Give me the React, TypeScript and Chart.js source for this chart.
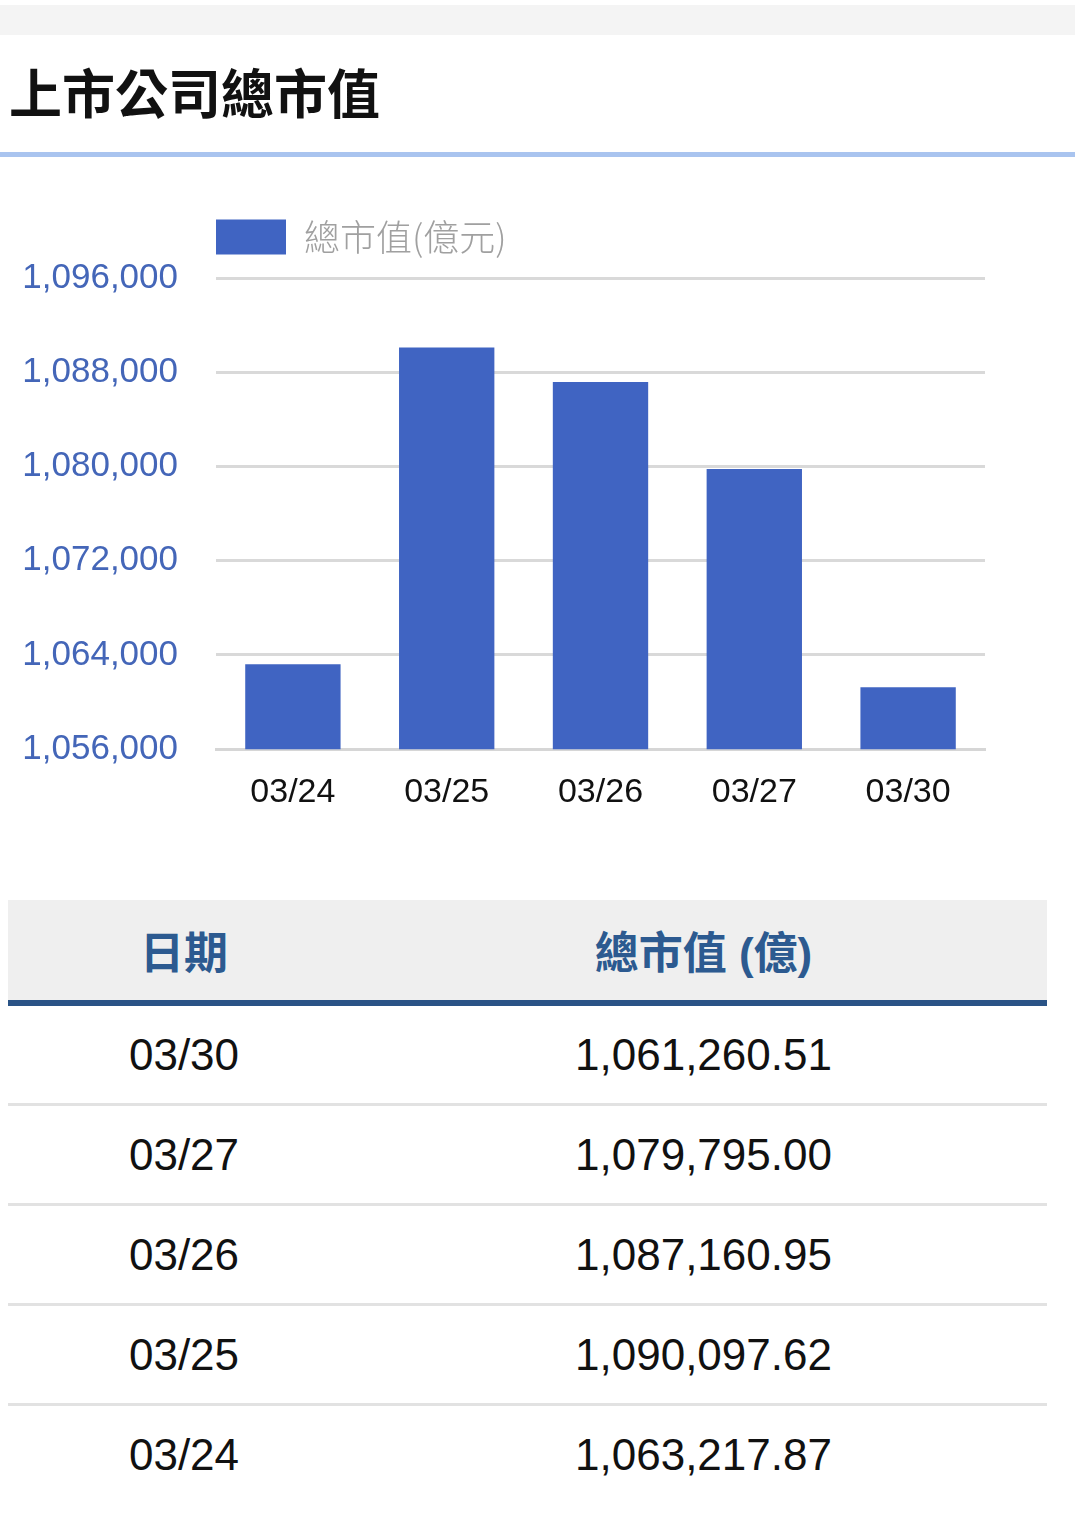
import { useEffect, useLayoutEffect, useRef } from 'react'
import { Chart, registerables } from 'chart.js'

Chart.register(...registerables)

const dates = ['03/24', '03/25', '03/26', '03/27', '03/30']
const marketValues = [1063217.87, 1090097.62, 1087160.95, 1079795.0, 1061260.51]
const seriesLabel = '總市值(億元)'
const yMin = 1056000
const yMax = 1096000
const yStep = 8000

const barColor = '#4064c2'
const tickBlue = '#4466b8'
const latin = "'Liberation Sans', Arial, sans-serif"

function fmt(v: number, digits = 0) {
  return v.toLocaleString('en-US', { minimumFractionDigits: digits, maximumFractionDigits: digits })
}

// extra space under the legend + legend starting at the chart area's left edge
const legendTweaks = {
  id: 'legendTweaks',
  beforeInit(chart: any) {
    const lg = chart.legend
    if (!lg) return
    const origFit = lg.fit
    lg.fit = function () {
      origFit.call(this)
      this.height += 13
    }
  },
  beforeDraw(chart: any) {
    const lg = chart.legend
    if (!lg) return
    lg.left = chart.chartArea.left - 23
  },
}

function BarChart() {
  const canvasRef = useRef<HTMLCanvasElement>(null)
  const chartRef = useRef<Chart | null>(null)

  useEffect(() => {
    if (!canvasRef.current) return
    if (chartRef.current) chartRef.current.destroy()

    chartRef.current = new Chart(canvasRef.current, {
      type: 'bar',
      data: {
        labels: dates,
        datasets: [
          {
            label: seriesLabel,
            data: marketValues,
            backgroundColor: barColor,
            borderWidth: 0,
            categoryPercentage: 0.62,
            barPercentage: 1,
          },
        ],
      },
      options: {
        animation: false,
        responsive: false,
        maintainAspectRatio: false,
        layout: { padding: { left: 0, right: 90, top: 6, bottom: 10 } },
        plugins: {
          legend: {
            display: true,
            position: 'top',
            align: 'start',
            labels: {
              boxWidth: 70,
              boxHeight: 35,
              color: '#a0a0a0',
              padding: 23,
              font: { family: "'Noto Sans CJK TC', sans-serif", size: 36, weight: 300 },
            },
          },
          tooltip: { enabled: false },
        },
        scales: {
          x: {
            grid: { display: false },
            border: { display: true, color: '#d6d6d6', width: 3 },
            ticks: {
              color: '#111',
              padding: 15,
              font: { family: latin, size: 34 },
            },
          },
          y: {
            min: yMin,
            max: yMax,
            border: { display: false },
            grid: { color: '#d9d9d9', lineWidth: 3, drawTicks: false },
            afterFit: (scale: any) => {
              scale.width = 216
            },
            ticks: {
              stepSize: yStep,
              color: tickBlue,
              padding: 38,
              font: { family: latin, size: 35 },
              callback: (v: any) => fmt(Number(v)),
            },
          },
        },
      },
      plugins: [legendTweaks],
    })

    return () => {
      if (chartRef.current) {
        chartRef.current.destroy()
        chartRef.current = null
      }
    }
  }, [])

  return <canvas ref={canvasRef} width={1075} height={648} style={{ width: 1075, height: 648, display: 'block' }} />
}

export default function App() {
  useLayoutEffect(() => {
    document.body.style.margin = '0'
  }, [])

  const rows = dates.map((d, i) => ({ d, v: marketValues[i] })).reverse()

  const cell = (i: number) => ({
    height: 97,
    padding: 0,
    textAlign: 'center' as const,
    fontSize: 44,
    color: '#111',
    borderBottom: i < rows.length - 1 ? '3px solid #e2e2e2' : 'none',
  })

  return (
    <div style={{ position: 'relative', width: 1075, height: 1523, background: '#fff', overflow: 'hidden' }}>
      <div style={{ position: 'absolute', left: 0, top: 5, width: 1075, height: 30, background: '#f4f4f4' }} />
      <div
        style={{
          position: 'absolute',
          left: 9,
          top: 57,
          fontFamily: "'Noto Sans CJK TC', sans-serif",
          fontWeight: 700,
          fontSize: 53,
          lineHeight: '68px',
          color: '#111',
          whiteSpace: 'nowrap',
        }}
      >
        上市公司總市值
      </div>
      <div style={{ position: 'absolute', left: 0, top: 152, width: 1075, height: 5, background: '#a9c4ef' }} />

      <div style={{ position: 'absolute', left: 0, top: 190 }}>
        <BarChart />
      </div>

      <table
        style={{
          position: 'absolute',
          left: 8,
          top: 900,
          width: 1039,
          borderCollapse: 'collapse',
          fontFamily: latin,
        }}
      >
        <thead>
          <tr style={{ background: '#efefef' }}>
            {['日期', '總市值 (億)'].map((h, i) => (
              <th
                key={h}
                style={{
                  width: i === 0 ? 352 : 687,
                  height: 100,
                  padding: 0,
                  borderBottom: '6px solid #2a5386',
                  color: '#2c5a90',
                  fontFamily: "'Liberation Sans', 'Noto Sans CJK TC', sans-serif",
                  fontWeight: 700,
                  fontSize: 44,
                  textAlign: 'center',
                }}
              >
                {h}
              </th>
            ))}
          </tr>
        </thead>
        <tbody>
          {rows.map((r, i) => (
            <tr key={r.d}>
              <td style={cell(i)}>{r.d}</td>
              <td style={cell(i)}>{fmt(r.v, 2)}</td>
            </tr>
          ))}
        </tbody>
      </table>
    </div>
  )
}
